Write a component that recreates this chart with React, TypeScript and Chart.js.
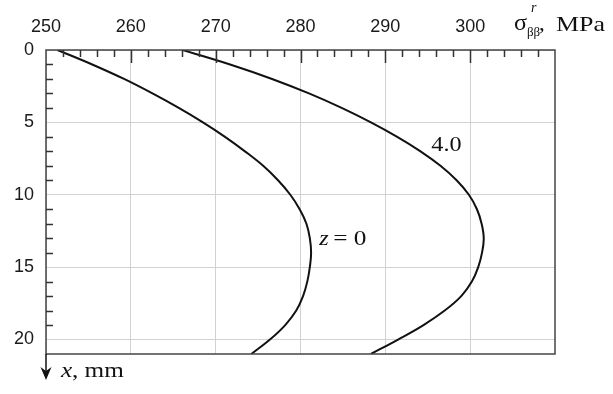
import React, { useEffect, useRef } from "react";
import { Chart, registerables } from "chart.js";

Chart.register(...registerables);

// Depth x (mm), shared by both curves
const depth = [0, 1, 2, 3, 4, 5, 6, 7, 8, 9, 10, 11, 12, 13, 14, 15, 16, 17, 18, 19, 20, 21];
// sigma (MPa) for z = 0
const stressZ0 = [251.35, 255.45, 259.2, 262.55, 265.65, 268.5, 271.1, 273.45, 275.6, 277.35, 278.8, 279.9, 280.7, 281.1, 281.25, 281.1, 280.8, 280.3, 279.5, 278.2, 276.4, 274.2];
// sigma (MPa) for z = 4.0
const stressZ4 = [266.1, 271.7, 276.65, 281.0, 284.85, 288.3, 291.4, 294.15, 296.5, 298.4, 299.85, 300.8, 301.35, 301.6, 301.4, 300.95, 300.2, 298.95, 297.0, 294.5, 291.5, 288.3];

const xTicks = [250, 260, 270, 280, 290, 300];
const xMinorTicks = [252, 254, 256, 258, 262, 264, 266, 268, 272, 274, 276, 278, 282, 284, 286, 288, 292, 294, 296, 298, 302, 304, 306, 308];
const yTicks = [0, 5, 10, 15, 20];
const yMinorTicks = [1, 2, 3, 4, 6, 7, 8, 9, 11, 12, 13, 14, 16, 17, 18, 19];
const xRange = [250, 310];
const yRange = [0, 21];

const curveLabels = [
  { text: "4.0", x: 297.2, y: 6.56 },
  { text: "z0", x: 282.2, y: 13.05 },
];

const SERIF = "'Liberation Serif', 'Times New Roman', serif";
const SANS = "'Liberation Sans', Arial, sans-serif";

function drawText(ctx: CanvasRenderingContext2D, text: string, x: number, y: number, font: string, sx: number, align: CanvasTextAlign = "left", baseline: CanvasTextBaseline = "alphabetic") {
  ctx.save();
  ctx.translate(x, y);
  ctx.scale(sx, 1);
  ctx.font = font;
  ctx.textAlign = align;
  ctx.textBaseline = baseline;
  ctx.fillStyle = "#111";
  ctx.fillText(text, 0, 0);
  ctx.restore();
}

const framePlugin = {
  id: "frame",
  afterDraw(chart: any) {
    const ctx: CanvasRenderingContext2D = chart.ctx;
    const { left, right, top, bottom } = chart.chartArea;
    const xs = chart.scales.x;
    const ys = chart.scales.y;
    ctx.save();
    // border
    ctx.strokeStyle = "#444";
    ctx.lineWidth = 1.5;
    ctx.strokeRect(left, top, right - left, bottom - top);
    // inward ticks
    ctx.strokeStyle = "#333";
    ctx.lineWidth = 1.5;
    ctx.beginPath();
    xTicks.forEach((v) => {
      if (v === xRange[0]) return;
      const px = Math.round(xs.getPixelForValue(v)) + 0.5;
      ctx.moveTo(px, top);
      ctx.lineTo(px, top + 13);
    });
    xMinorTicks.forEach((v) => {
      const px = Math.round(xs.getPixelForValue(v)) + 0.5;
      ctx.moveTo(px, top);
      ctx.lineTo(px, top + 7);
    });
    yMinorTicks.forEach((v) => {
      const py = Math.round(ys.getPixelForValue(v)) + 0.5;
      ctx.moveTo(left, py);
      ctx.lineTo(left + 7, py);
    });
    ctx.stroke();

    // arrow for x, mm
    ctx.strokeStyle = "#111";
    ctx.lineWidth = 1.5;
    ctx.beginPath();
    ctx.moveTo(left, bottom);
    ctx.lineTo(left, bottom + 20);
    ctx.stroke();
    ctx.fillStyle = "#111";
    ctx.beginPath();
    ctx.moveTo(left, bottom + 26);
    ctx.lineTo(left - 5.5, bottom + 13);
    ctx.lineTo(left, bottom + 17);
    ctx.lineTo(left + 5.5, bottom + 13);
    ctx.closePath();
    ctx.fill();
    ctx.restore();

    // y-axis title: x, mm
    drawText(ctx, "x", left + 15, bottom + 23, `italic 21px ${SERIF}`, 1.2);
    drawText(ctx, ", mm", left + 26, bottom + 23, `21px ${SERIF}`, 1.2);

    // x-axis title: sigma^r_bb, MPa
    drawText(ctx, "σ", 514, 30, `23px ${SERIF}`, 1.05);
    drawText(ctx, "ββ", 527, 36, `13px ${SERIF}`, 1.0);
    drawText(ctx, "r", 531, 12, `italic 14px ${SERIF}`, 1.0);
    drawText(ctx, ",", 539, 30, `21px ${SERIF}`, 1.1);
    drawText(ctx, "MPa", 556, 31, `22px ${SERIF}`, 1.18);

    // curve labels
    curveLabels.forEach((l) => {
      const px = xs.getPixelForValue(l.x);
      const py = ys.getPixelForValue(l.y);
      if (l.text === "4.0") {
        drawText(ctx, "4.0", px, py, `22px ${SERIF}`, 1.1, "center", "middle");
      } else {
        drawText(ctx, "z", px, py, `italic 22px ${SERIF}`, 1.1, "left", "middle");
        drawText(ctx, "= 0", px + 14, py, `22px ${SERIF}`, 1.15, "left", "middle");
      }
    });
  },
};

export default function App() {
  const ref = useRef<HTMLCanvasElement | null>(null);
  useEffect(() => {
    if (!ref.current) return;
    const mk = (vals: number[]) => vals.map((v, i) => ({ x: v, y: depth[i] }));
    const chart = new Chart(ref.current, {
      type: "scatter",
      data: {
        datasets: [
          { label: "z = 0", data: mk(stressZ0), showLine: true, borderColor: "#111", borderWidth: 2, pointRadius: 0, tension: 0.4 },
          { label: "4.0", data: mk(stressZ4), showLine: true, borderColor: "#111", borderWidth: 2, pointRadius: 0, tension: 0.4 },
        ],
      },
      options: {
        animation: false,
        responsive: false,
        layout: { padding: { top: 0, left: 0, right: 58, bottom: 40 } },
        plugins: { legend: { display: false }, tooltip: { enabled: false } },
        scales: {
          x: {
            type: "linear",
            position: "top",
            min: xRange[0],
            max: xRange[1],
            afterBuildTicks: (s: any) => { s.ticks = xTicks.map((v) => ({ value: v })); },
            afterFit: (s: any) => { s.height = 50; },
            grid: { color: "#d2d2d2", lineWidth: 1, drawTicks: false },
            border: { display: false },
            ticks: { padding: 12, color: "#1a1a1a", font: { family: SANS, size: 18 }, maxRotation: 0, autoSkip: false },
          },
          y: {
            type: "linear",
            reverse: true,
            min: yRange[0],
            max: yRange[1],
            afterBuildTicks: (s: any) => { s.ticks = yTicks.map((v) => ({ value: v })); },
            afterFit: (s: any) => { s.width = 46; },
            grid: { color: "#d2d2d2", lineWidth: 1, drawTicks: false },
            border: { display: false },
            ticks: { padding: 12, color: "#1a1a1a", font: { family: SANS, size: 18 }, autoSkip: false },
          },
        },
      },
      plugins: [framePlugin],
    });
    return () => chart.destroy();
  }, []);
  return (
    <div style={{ position: "absolute", left: 0, top: 0, width: 613, height: 394, background: "#fff" }}>
      <canvas ref={ref} width={613} height={394} style={{ display: "block" }} />
    </div>
  );
}
